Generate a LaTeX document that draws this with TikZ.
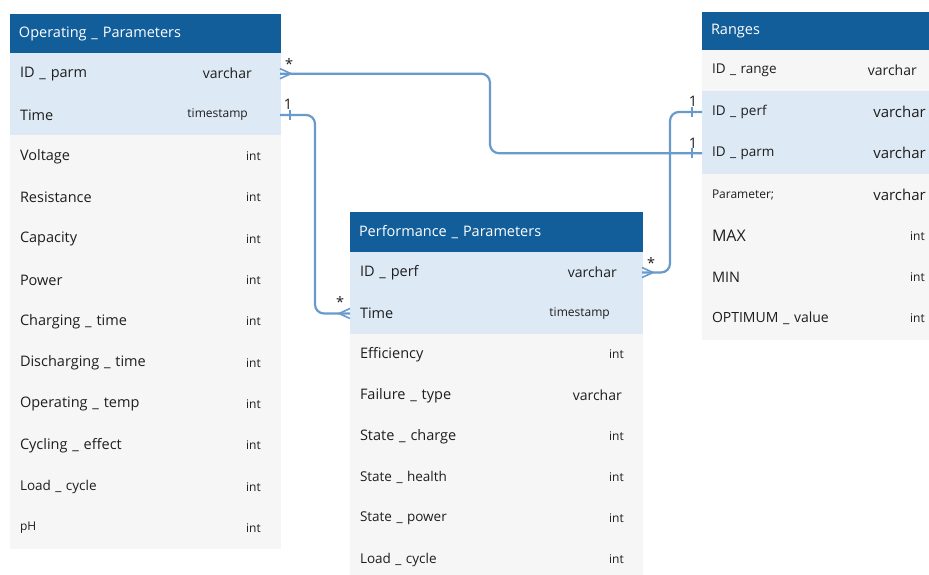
\documentclass[tikz,border=0pt]{standalone}
\usepackage{fontspec}
\setmainfont{Open Sans}
\usetikzlibrary{positioning}

\definecolor{headblue}{RGB}{17,94,155}
\definecolor{keyblue}{RGB}{221,233,245}
\definecolor{rowgray}{RGB}{246,246,246}
\definecolor{linkblue}{RGB}{104,155,204}
\definecolor{ink}{RGB}{30,30,30}

\begin{document}
\begin{tikzpicture}[x=1pt,y=-1pt,
    tabhead/.style={fill=headblue,draw=headblue,line width=0.6pt,outer sep=0pt,text=white,anchor=north west,minimum height=40pt,inner xsep=9pt,text width=#1,align=left,font=\fontsize{14.5}{17}\selectfont},
    tabrow/.style={fill=rowgray,draw=rowgray,line width=0.6pt,outer sep=0pt,text=ink,minimum height=41.3pt,inner xsep=10pt,text width=#1,align=left,font=\fontsize{14.5}{17}\selectfont},
    keyrow/.style={tabrow=#1,fill=keyblue,draw=keyblue},
    typ/.style={text=ink,inner sep=0pt,font=\fontsize{12}{14}\selectfont},
    card/.style={text=ink,inner sep=0pt,font=\fontsize{14.5}{17}\selectfont},
    link/.style={draw=linkblue,line width=2.2pt,rounded corners=9pt}]
      \useasboundingbox[fill=white] (0,0) rectangle (929,574);

      % Operating_Parameters
      \node[tabhead=252pt,minimum height=39pt] (opHead) at (10,14) {Operating \_ Parameters};
      \node[keyrow=250pt] (opA) [below=0pt of opHead] {ID \_ parm};
      \node[keyrow=250pt] (opB) [below=0pt of opA] {Time};
      \node[tabrow=250pt] (opC) [below=0pt of opB] {Voltage};
      \node[tabrow=250pt] (opD) [below=0pt of opC] {Resistance};
      \node[tabrow=250pt] (opE) [below=0pt of opD] {Capacity};
      \node[tabrow=250pt] (opF) [below=0pt of opE] {Power};
      \node[tabrow=250pt] (opG) [below=0pt of opF] {Charging \_ time};
      \node[tabrow=250pt] (opH) [below=0pt of opG] {Discharging \_ time};
      \node[tabrow=250pt] (opI) [below=0pt of opH] {Operating \_ temp};
      \node[tabrow=250pt] (opJ) [below=0pt of opI] {Cycling \_ effect};
      \node[tabrow=250pt,font=\fontsize{13.5}{16}\selectfont] (opK) [below=0pt of opJ] {Load \_ cycle};
      \node[tabrow=250pt,font=\fontsize{12}{14}\selectfont] (opL) [below=0pt of opK] {pH};

      \node[typ,font=\fontsize{14}{16}\selectfont] (opAt) [left=28pt of opA.east] {varchar};
      \node[typ] (opBt) [left=32pt of opB.east] {timestamp};
      \node[typ] (opCt) [left=19pt of opC.east] {int};
      \node[typ] (opDt) [left=19pt of opD.east] {int};
      \node[typ] (opEt) [left=19pt of opE.east] {int};
      \node[typ] (opFt) [left=19pt of opF.east] {int};
      \node[typ] (opGt) [left=19pt of opG.east] {int};
      \node[typ] (opHt) [left=19pt of opH.east] {int};
      \node[typ] (opIt) [left=19pt of opI.east] {int};
      \node[typ] (opJt) [left=19pt of opJ.east] {int};
      \node[typ] (opKt) [left=19pt of opK.east] {int};
      \node[typ] (opLt) [left=19pt of opL.east] {int};

      % Performance_Parameters
      \node[tabhead=274pt] (pfHead) at (350,212) {Performance \_ Parameters};
      \node[keyrow=272pt,minimum height=41pt] (pfA) [below=0pt of pfHead] {ID \_ perf};
      \node[keyrow=272pt,minimum height=41pt] (pfB) [below=0pt of pfA] {Time};
      \node[tabrow=272pt,minimum height=41pt] (pfC) [below=0pt of pfB] {Efficiency};
      \node[tabrow=272pt,minimum height=41pt] (pfD) [below=0pt of pfC] {Failure \_ type};
      \node[tabrow=272pt,minimum height=41pt] (pfE) [below=0pt of pfD] {State \_ charge};
      \node[tabrow=272pt,minimum height=41pt,font=\fontsize{13.5}{16}\selectfont] (pfF) [below=0pt of pfE] {State \_ health};
      \node[tabrow=272pt,minimum height=41pt,font=\fontsize{13.5}{16}\selectfont] (pfG) [below=0pt of pfF] {State \_ power};
      \node[tabrow=272pt,minimum height=41pt,font=\fontsize{13.5}{16}\selectfont] (pfH) [below=0pt of pfG] {Load \_ cycle};

      \node[typ,font=\fontsize{14}{16}\selectfont] (pfAt) [left=25pt of pfA.east] {varchar};
      \node[typ] (pfBt) [left=32pt of pfB.east] {timestamp};
      \node[typ] (pfCt) [left=18pt of pfC.east] {int};
      \node[typ,font=\fontsize{14}{16}\selectfont] (pfDt) [left=20pt of pfD.east] {varchar};
      \node[typ] (pfEt) [left=18pt of pfE.east] {int};
      \node[typ] (pfFt) [left=18pt of pfF.east] {int};
      \node[typ] (pfGt) [left=18pt of pfG.east] {int};
      \node[typ] (pfHt) [left=18pt of pfH.east] {int};

      % Ranges
      \node[tabhead=209pt,minimum height=38pt] (rgHead) at (702,12) {Ranges};
      \node[tabrow=207pt,font=\fontsize{13.5}{16}\selectfont] (rgA) [below=0pt of rgHead] {ID \_ range};
      \node[keyrow=207pt,font=\fontsize{13.5}{16}\selectfont] (rgB) [below=0pt of rgA] {ID \_ perf};
      \node[keyrow=207pt,font=\fontsize{13.5}{16}\selectfont] (rgC) [below=0pt of rgB] {ID \_ parm};
      \node[tabrow=207pt,font=\fontsize{12}{14}\selectfont] (rgD) [below=0pt of rgC] {Parameter;};
      \node[tabrow=207pt,font=\fontsize{16}{18}\selectfont] (rgE) [below=0pt of rgD] {MAX};
      \node[tabrow=207pt,font=\fontsize{14.5}{17}\selectfont] (rgF) [below=0pt of rgE] {MIN};
      \node[tabrow=207pt,font=\fontsize{14}{16}\selectfont] (rgG) [below=0pt of rgF] {OPTIMUM \_ value};

      \node[typ,font=\fontsize{14}{16}\selectfont] (rgAt) [left=12pt of rgA.east] {varchar};
      \node[typ,font=\fontsize{15}{17}\selectfont] (rgBt) [left=3pt of rgB.east] {varchar};
      \node[typ,font=\fontsize{15}{17}\selectfont] (rgCt) [left=3pt of rgC.east] {varchar};
      \node[typ,font=\fontsize{15}{17}\selectfont] (rgDt) [left=3pt of rgD.east] {varchar};
      \node[typ] (rgEt) [left=4pt of rgE.east] {int};
      \node[typ] (rgFt) [left=4pt of rgF.east] {int};
      \node[typ] (rgGt) [left=4pt of rgG.east] {int};

      % connectors
      \draw[link] (opA.east) -- ++(210,0) |- (rgC.west);
      \draw[link] (opB.east) -- ++(35,0) |- (pfB.west);
      \draw[link] (pfA.east) -- ++(28,0) |- (rgB.west);

      % many ends
      \draw[link,line width=1.6pt,rounded corners=0pt] ([yshift=5pt]opA.east) -- ([xshift=11pt]opA.east) -- ([yshift=-5pt]opA.east);
      \draw[link,line width=1.6pt,rounded corners=0pt] ([yshift=5pt]pfB.west) -- ([xshift=-11pt]pfB.west) -- ([yshift=-5pt]pfB.west);
      \draw[link,line width=1.6pt,rounded corners=0pt] ([yshift=5pt]pfA.east) -- ([xshift=11pt]pfA.east) -- ([yshift=-5pt]pfA.east);

      % one ends
      \draw[link,line width=1.6pt] ([xshift=10pt,yshift=5pt]opB.east) -- ([xshift=10pt,yshift=-5pt]opB.east);
      \draw[link,line width=1.6pt] ([xshift=-10pt,yshift=5pt]rgB.west) -- ([xshift=-10pt,yshift=-5pt]rgB.west);
      \draw[link,line width=1.6pt] ([xshift=-10pt,yshift=5pt]rgC.west) -- ([xshift=-10pt,yshift=-5pt]rgC.west);

      \node[card] (cA) at ([xshift=9pt,yshift=10pt]opA.east) {*};
      \node[card] (cB) at ([xshift=8pt,yshift=11pt]opB.east) {1};
      \node[card] (cC) at ([xshift=-10pt,yshift=12pt]pfB.west) {*};
      \node[card] (cD) at ([xshift=9pt,yshift=10pt]pfA.east) {*};
      \node[card] (cE) at ([xshift=-9pt,yshift=11pt]rgB.west) {1};
      \node[card] (cF) at ([xshift=-9pt,yshift=10pt]rgC.west) {1};
\end{tikzpicture}
\end{document}
